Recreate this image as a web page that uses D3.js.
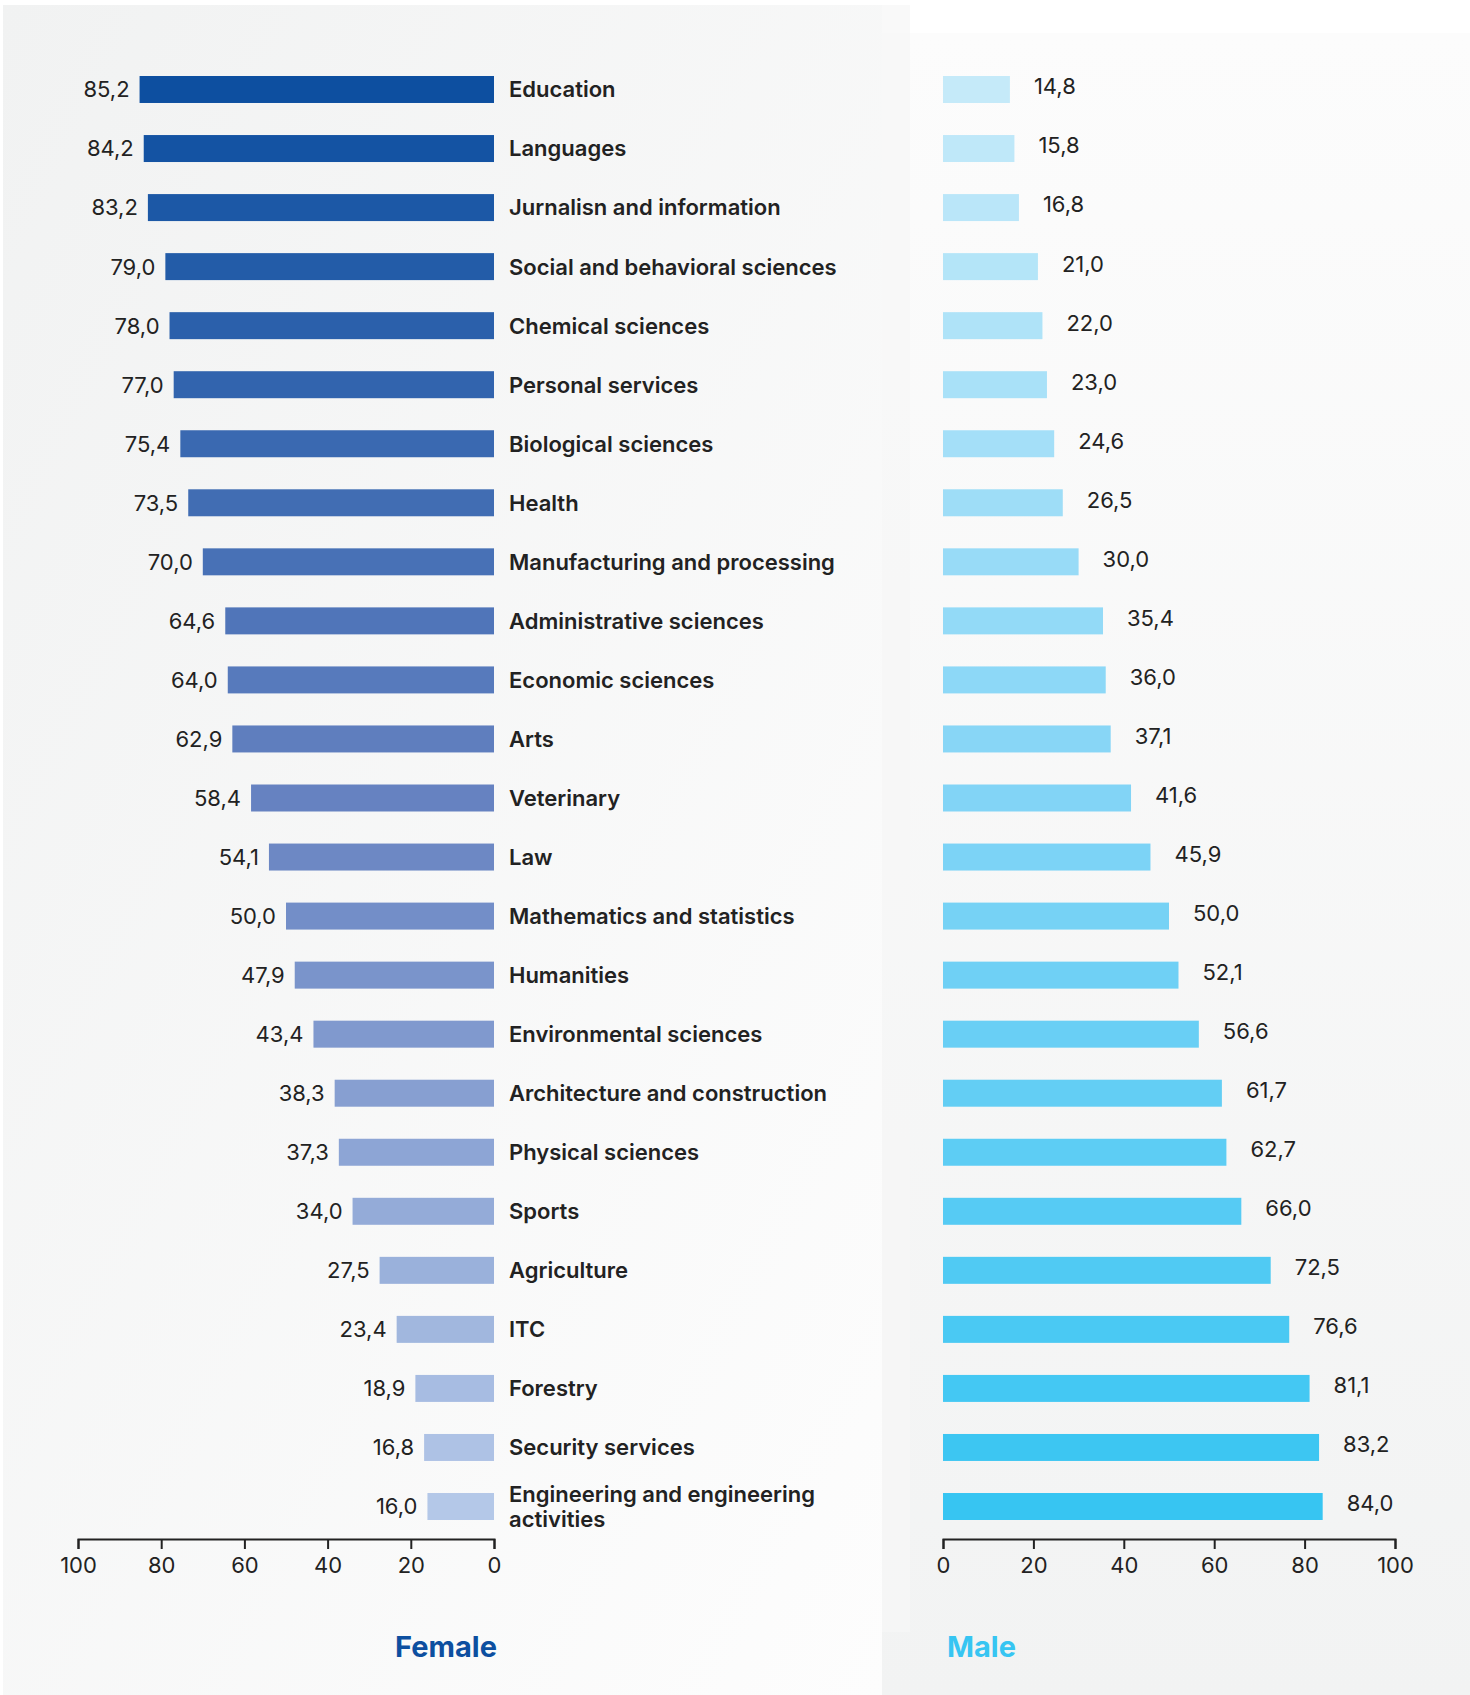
<!DOCTYPE html>
<html>
<head>
<meta charset="utf-8">
<script src="https://cdn.jsdelivr.net/npm/d3@7"></script>
<style>
  html, body { margin: 0; padding: 0; background: #fff; }
  svg { display: block; font-family: Inter, "Noto Sans", sans-serif; }
  .cat { font-weight: 600; fill: #222; font-size: 22px; }
  .val { fill: #222; font-size: 22px; }
  .eje text { font-size: 22px; fill: #222; font-family: Inter, "Noto Sans", sans-serif; }
  .eje path, .eje line { stroke: #222; stroke-width: 2; }
</style>
</head>
<body>
<div id="graf"></div>
<script>
const anchoTotal = 1470
const altoTotal = 1695

// datos
const categorias = [
  'Education', 'Languages', 'Jurnalisn and information', 'Social and behavioral sciences',
  'Chemical sciences', 'Personal services', 'Biological sciences', 'Health',
  'Manufacturing and processing', 'Administrative sciences', 'Economic sciences', 'Arts',
  'Veterinary', 'Law', 'Mathematics and statistics', 'Humanities',
  'Environmental sciences', 'Architecture and construction', 'Physical sciences', 'Sports',
  'Agriculture', 'ITC', 'Forestry', 'Security services', 'Engineering and engineering activities'
]
const mujeres = [85.2, 84.2, 83.2, 79.0, 78.0, 77.0, 75.4, 73.5, 70.0, 64.6, 64.0, 62.9,
  58.4, 54.1, 50.0, 47.9, 43.4, 38.3, 37.3, 34.0, 27.5, 23.4, 18.9, 16.8, 16.0]
const hombres = [14.8, 15.8, 16.8, 21.0, 22.0, 23.0, 24.6, 26.5, 30.0, 35.4, 36.0, 37.1,
  41.6, 45.9, 50.0, 52.1, 56.6, 61.7, 62.7, 66.0, 72.5, 76.6, 81.1, 83.2, 84.0]
const ticks = [0, 20, 40, 60, 80, 100]

const data = categorias.map((c, i) => ({ cat: c, f: mujeres[i], m: hombres[i], i: i }))

const svg = d3.select('#graf')
  .append('svg')
  .attr('width', anchoTotal)
  .attr('height', altoTotal)

// fondos
const defs = svg.append('defs')
const gIzq = defs.append('linearGradient').attr('id', 'fondoIzq')
  .attr('x1', '0%').attr('y1', '0%').attr('x2', '100%').attr('y2', '100%')
gIzq.append('stop').attr('offset', '0%').attr('stop-color', '#f1f2f2')
gIzq.append('stop').attr('offset', '100%').attr('stop-color', '#fdfdfd')
const gDer = defs.append('linearGradient').attr('id', 'fondoDer')
  .attr('x1', '0%').attr('y1', '0%').attr('x2', '0%').attr('y2', '100%')
gDer.append('stop').attr('offset', '0%').attr('stop-color', '#fcfcfc')
gDer.append('stop').attr('offset', '100%').attr('stop-color', '#f2f3f3')

svg.append('rect').attr('x', 882).attr('y', 33).attr('width', 588).attr('height', altoTotal - 33)
  .attr('fill', 'url(#fondoDer)')
svg.append('rect').attr('x', 3).attr('y', 5).attr('width', 879).attr('height', altoTotal - 5)
  .attr('fill', 'url(#fondoIzq)')
svg.append('rect').attr('x', 882).attr('y', 5).attr('width', 28).attr('height', 1627)
  .attr('fill', '#f6f6f6').attr('opacity', 0.7)

// escalas
const y = d3.scaleBand()
  .domain(data.map(d => d.cat))
  .range([76, 1520])
  .paddingInner(0.543)
  .paddingOuter(0)

const xF = d3.scaleLinear().domain([0, 100]).range([494, 78])
const xM = d3.scaleLinear().domain([0, 100]).range([943, 1395])

const colorF = d3.scaleLinear().domain([0, 12, 24]).range(['#0d4fa0', '#6682c1', '#b4c8e8'])
const colorM = d3.scaleLinear().domain([0, 12, 24]).range(['#c5eaf9', '#82d4f6', '#37c5f2'])

const ejeY = 1539

// barras mujeres
svg.append('g').selectAll('rect').data(data).enter()
  .append('rect')
  .attr('x', d => xF(d.f))
  .attr('y', d => y(d.cat))
  .attr('width', d => xF(0) - xF(d.f))
  .attr('height', y.bandwidth())
  .attr('fill', d => colorF(d.i))

svg.append('g').selectAll('text').data(data).enter()
  .append('text')
  .attr('class', 'val')
  .attr('x', d => xF(d.f) - 10)
  .attr('y', d => y(d.cat) + y.bandwidth() / 2)
  .attr('dy', '0.36em')
  .attr('text-anchor', 'end')
  .text(d => d3.format('.1f')(d.f).replace('.', ','))

// categorias
const cats = svg.append('g').selectAll('text').data(data).enter()
  .append('text')
  .attr('class', 'cat')
  .attr('x', 509)
  .attr('y', d => y(d.cat) + y.bandwidth() / 2)

cats.each(function (d) {
  const t = d3.select(this)
  if (d.cat.startsWith('Engineering')) {
    t.append('tspan').attr('x', 509).attr('dy', '-0.2em').text('Engineering and engineering')
    t.append('tspan').attr('x', 509).attr('dy', '1.15em').text('activities')
  } else {
    t.attr('dy', '0.36em').text(d.cat)
  }
})

// barras hombres
svg.append('g').selectAll('rect').data(data).enter()
  .append('rect')
  .attr('x', xM(0))
  .attr('y', d => y(d.cat))
  .attr('width', d => xM(d.m) - xM(0))
  .attr('height', y.bandwidth())
  .attr('fill', d => colorM(d.i))

svg.append('g').selectAll('text').data(data).enter()
  .append('text')
  .attr('class', 'val')
  .attr('x', d => xM(d.m) + 24)
  .attr('y', d => y(d.cat) + y.bandwidth() / 2 - 3)
  .attr('dy', '0.36em')
  .text(d => d3.format('.1f')(d.m).replace('.', ','))

// ejes
svg.append('g')
  .attr('class', 'eje')
  .attr('transform', `translate(0, ${ejeY})`)
  .call(d3.axisBottom(xF).tickValues(ticks).tickSize(10).tickPadding(8).tickSizeOuter(10))

svg.append('g')
  .attr('class', 'eje')
  .attr('transform', `translate(0, ${ejeY})`)
  .call(d3.axisBottom(xM).tickValues(ticks).tickSize(10).tickPadding(8).tickSizeOuter(10))

// titulos
svg.append('text')
  .attr('x', 446).attr('y', 1657)
  .attr('text-anchor', 'middle')
  .attr('font-size', 29).attr('font-weight', 700)
  .attr('fill', '#0d4fa0')
  .text('Female')

svg.append('text')
  .attr('x', 947).attr('y', 1657)
  .attr('font-size', 29).attr('font-weight', 700)
  .attr('fill', '#37c5f2')
  .text('Male')
</script>
</body>
</html>
